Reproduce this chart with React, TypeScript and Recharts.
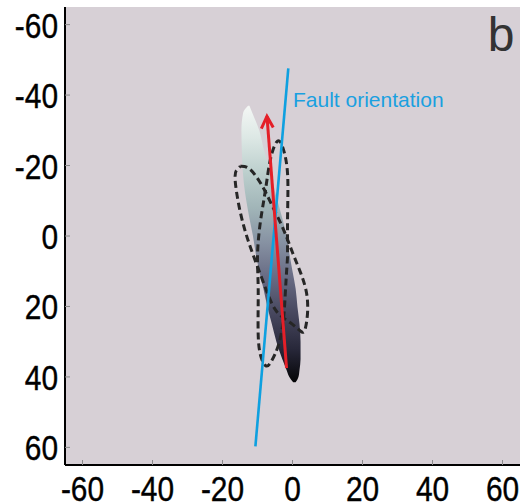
import {
  ComposedChart,
  Area,
  Line,
  XAxis,
  YAxis,
  CartesianGrid,
  ReferenceDot,
} from 'recharts';

const TICKS = [-60, -40, -20, 0, 20, 40, 60];

// density blob: left / right edge at each depth
const BLOB_Y = [-37, -35, -30, -25, -20, -15, -10, -5, 0, 5, 10, 15, 20, 25, 30, 35, 38, 40, 41.5];
const BLOB_LEFT = [-12.7, -14.1, -14.6, -14.5, -14.3, -13.9, -13.2, -12.3, -11.3, -10.5, -9.5, -8.3, -7.2, -5.9, -4.6, -2.9, -1.7, -0.9, 0.2];
const BLOB_RIGHT = [-12.3, -11.5, -9.5, -8.3, -6.9, -5.6, -4.3, -2.9, -1.7, -0.9, 0, 0.9, 1.4, 2.0, 2.3, 2.3, 2.0, 1.7, 0.9];

// shade of the blob going down
const SHADE_Y = [-37, -28, -18, -8, 2, 12, 22, 32, 41.5];
const SHADE_COLOR = ['#f4f7f5', '#dde8e5', '#bccfcd', '#a1b5b8', '#8691a2', '#676a83', '#47475e', '#28283a', '#050507'];

// dashed ellipses, outline
const ELLIPSE_A_X = [-14.9, -12.1, -8.6, -5.7, -2.6, 0, 2.3, 4.0, 4.3, 3.7, 2.6, -0.6, -4.9, -8.6, -12.1, -14.9, -16.4, -15.8, -14.9];
const ELLIPSE_A_Y = [-19.8, -18.9, -14.1, -8.4, -1.9, 4.7, 10.4, 16.1, 21.8, 26.1, 27.2, 24.6, 20.9, 12.4, 3.0, -6.7, -16.1, -18.9, -19.8];
const ELLIPSE_B_X = [-1.4, -2.0, -2.6, -4.0, -6.0, -7.5, -8.9, -9.8, -9.8, -10.0, -9.2, -7.7, -6.3, -4.3, -2.6, -1.4, -1.4, -1.4];
const ELLIPSE_B_Y = [5.8, 15.2, 23.8, 30.9, 35.5, 36.9, 34.6, 28.1, 15.2, 5.8, -3.8, -13.2, -21.8, -26.9, -24.6, -17.5, -6.1, 5.8];

const FAULT_X = [-10.6, -1.2];
const FAULT_Y = [59.7, -47.6];

const ARROW_X = [-1.7, -7.3];
const ARROW_Y = [37.5, -34];
const HEAD_X = [-8.9, -7.3, -5.5];
const HEAD_Y = [-30.5, -34, -30.8];

const zip = (xs: number[], ys: number[]) => xs.map((x, i) => ({ x, y: ys[i] }));

const blobData = BLOB_Y.map((y, i) => ({ y, range: [BLOB_LEFT[i], BLOB_RIGHT[i]] }));

const TEXT_FONT = '"Liberation Sans", Arial, sans-serif';

const shadeTop = SHADE_Y[0];
const shadeSpan = SHADE_Y[SHADE_Y.length - 1] - shadeTop;

// tick labels in the figure use a narrow face, so squeeze them a little
function XTick({ x, y, payload }: any) {
  return (
    <g transform={`translate(${x},${y + 24}) scale(0.83,1)`}>
      <text x={0} y={0} textAnchor="middle" fontSize={36} fontFamily={TEXT_FONT} fill="#000" stroke="#000" strokeWidth={0.4}>
        {payload.value}
      </text>
    </g>
  );
}

function YTick({ x, y, payload }: any) {
  return (
    <g transform={`translate(${x},${y + 13}) scale(0.83,1)`}>
      <text x={0} y={0} textAnchor="end" fontSize={36} fontFamily={TEXT_FONT} fill="#000" stroke="#000" strokeWidth={0.4}>
        {payload.value}
      </text>
    </g>
  );
}

const dashed = {
  type: 'natural' as const,
  dataKey: 'x',
  stroke: '#262626',
  strokeWidth: 3,
  strokeDasharray: '7 4',
  dot: false,
  activeDot: false,
  isAnimationActive: false,
};

export default function App() {
  return (
    <div style={{ position: 'absolute', left: 0, top: 0, width: 526, height: 504 }}>
      <ComposedChart
        width={526}
        height={504}
        layout="vertical"
        data={blobData}
        margin={{ top: 7, right: 6, bottom: 0, left: 0 }}
      >
        <defs>
          <linearGradient id="blobShade" x1="0" y1="0" x2="0" y2="1">
            {SHADE_Y.map((y, i) => (
              <stop key={i} offset={(y - shadeTop) / shadeSpan} stopColor={SHADE_COLOR[i]} />
            ))}
          </linearGradient>
        </defs>
        <CartesianGrid fill="#d7d0d6" stroke="none" horizontal={false} vertical={false} />
        <XAxis
          type="number"
          domain={[-65, 65]}
          ticks={TICKS}
          allowDataOverflow
          height={39}
          axisLine={{ stroke: '#000', strokeWidth: 2 }}
          tickLine={{ stroke: '#8a8a8a' }}
          tickSize={-5}
          tickMargin={17}
          tick={<XTick />}
          interval={0}
        />
        <YAxis
          type="number"
          dataKey="y"
          domain={[-65, 65]}
          ticks={TICKS}
          allowDataOverflow
          width={65}
          axisLine={{ stroke: '#000', strokeWidth: 2 }}
          tickLine={{ stroke: '#8a8a8a' }}
          tickSize={-5}
          tickMargin={12}
          tick={<YTick />}
          interval={0}
        />
        <Area
          dataKey="range"
          type="monotone"
          fill="url(#blobShade)"
          fillOpacity={1}
          stroke="none"
          isAnimationActive={false}
          activeDot={false}
        />
        <Line data={zip(ELLIPSE_A_X, ELLIPSE_A_Y)} {...dashed} />
        <Line data={zip(ELLIPSE_B_X, ELLIPSE_B_Y)} {...dashed} />
        <Line
          data={zip(FAULT_X, FAULT_Y)}
          dataKey="x"
          type="linear"
          stroke="#0ea0e0"
          strokeWidth={2.6}
          dot={false}
          activeDot={false}
          isAnimationActive={false}
        />
        <Line
          data={zip(ARROW_X, ARROW_Y)}
          dataKey="x"
          type="linear"
          stroke="#e41f28"
          strokeWidth={3}
          dot={false}
          activeDot={false}
          isAnimationActive={false}
        />
        <Line
          data={zip(HEAD_X, HEAD_Y)}
          dataKey="x"
          type="linear"
          stroke="#e41f28"
          strokeWidth={3}
          dot={false}
          activeDot={false}
          isAnimationActive={false}
        />
        <ReferenceDot
          x={0.15}
          y={-36.7}
          r={0.01}
          fill="none"
          stroke="none"
          ifOverflow="visible"
          label={(props: any) => (
            <text
              x={props.viewBox?.x ?? 0}
              y={props.viewBox?.y ?? 0}
              fill="#1aa0e0"
              fontSize={21}
              fontFamily={TEXT_FONT}
              textAnchor="start"
            >
              Fault orientation
            </text>
          )}
        />
        <ReferenceDot
          x={59.6}
          y={-52.6}
          r={0.01}
          fill="none"
          stroke="none"
          ifOverflow="visible"
          label={(props: any) => (
            <text
              x={props.viewBox?.x ?? 0}
              y={props.viewBox?.y ?? 0}
              fill="#333"
              fontSize={48}
              fontFamily={TEXT_FONT}
              textAnchor="middle"
            >
              b
            </text>
          )}
        />
      </ComposedChart>
    </div>
  );
}
